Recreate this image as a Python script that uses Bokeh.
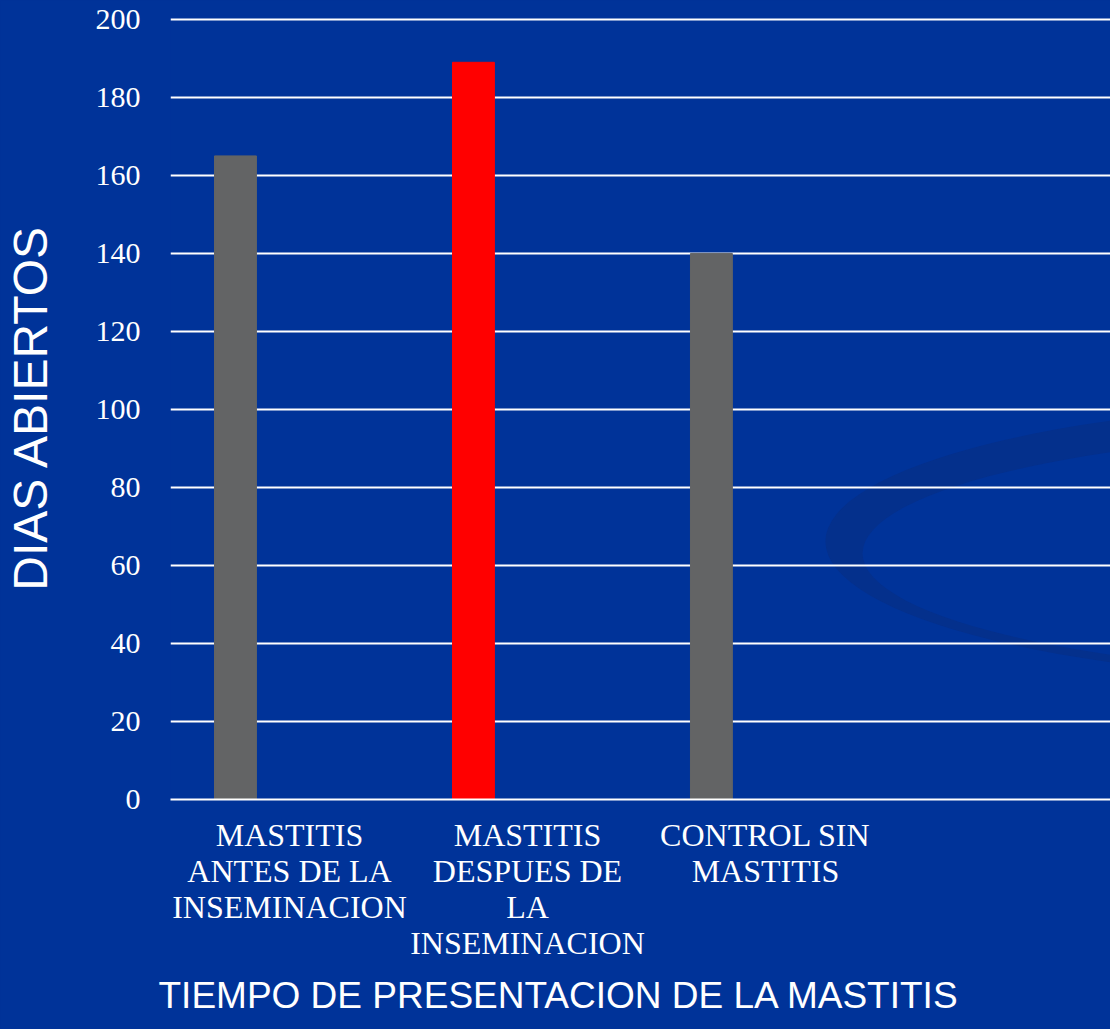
from bokeh.plotting import figure
from bokeh.models import Range1d, FixedTicker, ColumnDataSource, Title
from bokeh.embed import file_html
from bokeh.resources import INLINE

# ---- data ----
categories = ["MASTITIS\nANTES DE LA\nINSEMINACION",
              "MASTITIS\nDESPUES DE\nLA\nINSEMINACION",
              "CONTROL SIN\nMASTITIS"]
values = [165, 189, 140]
bar_colors = ["#636465", "#FF0000", "#636465"]
y_ticks = [0, 20, 40, 60, 80, 100, 120, 140, 160, 180, 200]
y_title = "DIAS ABIERTOS"
x_title = "TIEMPO DE PRESENTACION DE LA MASTITIS"

BG = "#003399"
SWIRL = "#04308c"

p = figure(width=1110, height=1029, output_backend="svg", toolbar_location=None,
           x_range=Range1d(-0.5, 3.45), y_range=Range1d(0, 201),
           min_border_left=170, min_border_right=0, min_border_top=15,
           min_border_bottom=230,
           background_fill_color=BG, border_fill_color=BG, outline_line_color=None)

# decorative swirl (background)
p.ellipse(x=[4.668], y=[66.15], width=[4.832], height=[71.8],
          fill_color=SWIRL, line_color=None, level="image")
p.ellipse(x=[4.761], y=[63.08], width=[4.706], height=[62.56],
          fill_color=BG, line_color=None, level="image")

# bars: series offset within each category
idx = list(range(len(categories)))
src = ColumnDataSource(dict(x=[i - 0.227 for i in idx], top=values, color=bar_colors))
p.vbar(x="x", top="top", width=0.176, color="color", source=src)

# grid
p.xgrid.grid_line_color = None
p.ygrid.grid_line_color = "white"
p.ygrid.grid_line_width = 2
p.ygrid.ticker = FixedTicker(ticks=y_ticks)

# y axis
p.yaxis.ticker = FixedTicker(ticks=y_ticks)
p.yaxis.axis_line_color = None
p.yaxis.major_tick_line_color = None
p.yaxis.minor_tick_line_color = None
p.yaxis.major_label_standoff = 24
p.yaxis.major_label_text_font = "Liberation Serif"
p.yaxis.major_label_text_font_size = "30px"
p.yaxis.major_label_text_color = "white"
p.yaxis.axis_label = y_title
p.yaxis.axis_label_text_font = "Liberation Sans"
p.yaxis.axis_label_text_font_style = "normal"
p.yaxis.axis_label_text_font_size = "48px"
p.yaxis.axis_label_text_color = "white"
p.yaxis.axis_label_standoff = 36

# x axis
p.xaxis.ticker = FixedTicker(ticks=idx)
p.xaxis.major_label_overrides = {i: c for i, c in zip(idx, categories)}
p.xaxis.axis_line_color = "white"
p.xaxis.axis_line_width = 2
p.xaxis.major_tick_line_color = None
p.xaxis.minor_tick_line_color = None
p.xaxis.major_label_standoff = 11
p.xaxis.major_label_text_font = "Liberation Serif"
p.xaxis.major_label_text_font_size = "32px"
p.xaxis.major_label_text_color = "white"
p.xaxis.major_label_text_line_height = 1.0

# x title
p.add_layout(Title(text=x_title, align="left", offset=-12, standoff=23,
                   vertical_align="top",
                   text_font="Liberation Sans", text_font_style="normal",
                   text_font_size="37px", text_color="white"), "below")

html = file_html(p, INLINE)
html = html.replace("<head>", "<head><style>html,body{margin:0;padding:0;background:#003399;}</style>", 1)
open("out.html", "w").write(html)
